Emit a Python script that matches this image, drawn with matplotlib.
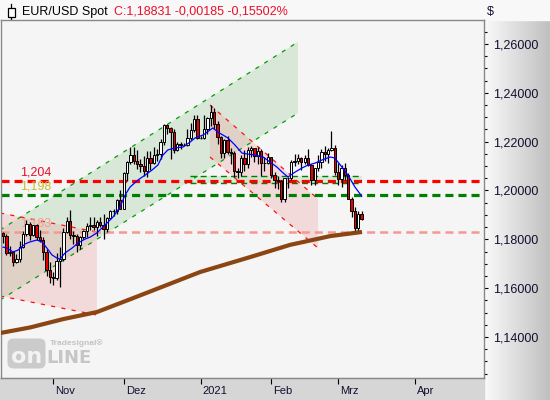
import numpy as np
import pandas as pd
import matplotlib
matplotlib.use("Agg")
import matplotlib.pyplot as plt
from matplotlib.patches import Rectangle, Polygon, FancyBboxPatch
from matplotlib.ticker import FixedLocator, MultipleLocator, FuncFormatter
import matplotlib.transforms as mtransforms

plt.rcParams['font.family'] = ['Liberation Sans', 'DejaVu Sans']
plt.rcParams['lines.scale_dashes'] = False

# ---------------- data ----------------
dates = ['2020-10-12','2020-10-13','2020-10-14','2020-10-15','2020-10-16','2020-10-19','2020-10-20','2020-10-21',
         '2020-10-22','2020-10-23','2020-10-26','2020-10-27','2020-10-28','2020-10-29','2020-10-30',
         '2020-11-02','2020-11-03','2020-11-04','2020-11-05','2020-11-06','2020-11-09','2020-11-10','2020-11-11',
         '2020-11-12','2020-11-13','2020-11-16','2020-11-17','2020-11-18','2020-11-19','2020-11-20','2020-11-23',
         '2020-11-24','2020-11-25','2020-11-26','2020-11-27','2020-11-30',
         '2020-12-01','2020-12-02','2020-12-03','2020-12-04','2020-12-07','2020-12-08','2020-12-09','2020-12-10',
         '2020-12-11','2020-12-14','2020-12-15','2020-12-16','2020-12-17','2020-12-18','2020-12-21','2020-12-22',
         '2020-12-23','2020-12-24','2020-12-25','2020-12-28','2020-12-29','2020-12-30','2020-12-31',
         '2021-01-01','2021-01-04','2021-01-05','2021-01-06','2021-01-07','2021-01-08','2021-01-11','2021-01-12',
         '2021-01-13','2021-01-14','2021-01-15','2021-01-18','2021-01-19','2021-01-20','2021-01-21','2021-01-22',
         '2021-01-25','2021-01-26','2021-01-27','2021-01-28','2021-01-29',
         '2021-02-01','2021-02-02','2021-02-03','2021-02-04','2021-02-05','2021-02-08','2021-02-09','2021-02-10',
         '2021-02-11','2021-02-12','2021-02-15','2021-02-16','2021-02-17','2021-02-18','2021-02-19','2021-02-22',
         '2021-02-23','2021-02-24','2021-02-25','2021-02-26',
         '2021-03-01','2021-03-02','2021-03-03','2021-03-04','2021-03-05','2021-03-08','2021-03-09','2021-03-10']

opens = [1.1826,1.1813,1.1745,1.1747,1.1706,1.1718,1.1768,1.1823,1.1862,1.1816,1.1859,1.1811,1.1797,1.1746,1.1674,
         1.1647,1.1641,1.1713,1.1720,1.1831,1.1875,1.1816,1.1813,1.1778,1.1810,1.1833,1.1855,1.1860,1.1850,1.1872,
         1.1860,1.1843,1.1889,1.1915,1.1915,1.1962,
         1.1926,1.2072,1.2115,1.2147,1.2121,1.2108,1.2101,1.2079,1.2134,1.2113,1.2146,1.2150,1.2197,1.2266,1.2254,
         1.2239,1.2165,1.2189,1.2187,1.2187,1.2214,1.2248,1.2293,
         1.2216,1.2216,1.2251,1.2297,1.2323,1.2271,1.2220,1.2152,1.2208,1.2157,1.2155,1.2079,1.2075,1.2131,1.2108,
         1.2165,1.2173,1.2142,1.2162,1.2112,1.2114,
         1.2136,1.2062,1.2041,1.2038,1.1965,1.2049,1.2049,1.2118,1.2120,1.2131,1.2118,1.2133,1.2106,1.2041,1.2091,
         1.2118,1.2156,1.2150,1.2166,1.2174,
         1.2075,1.2047,1.2091,1.2063,1.1966,1.1917,1.1847,1.1902]
highs = [1.1830,1.1820,1.1772,1.1752,1.1741,1.1794,1.1832,1.1881,1.1870,1.1860,1.1861,1.1838,1.1810,1.1760,1.1707,
         1.1665,1.1745,1.1770,1.1845,1.1891,1.1920,1.1836,1.1821,1.1815,1.1838,1.1868,1.1892,1.1890,1.1880,1.1890,
         1.1905,1.1890,1.1922,1.1923,1.1965,1.2002,
         1.2077,1.2122,1.2176,1.2178,1.2167,1.2128,1.2140,1.2163,1.2161,1.2178,1.2169,1.2210,1.2273,1.2272,1.2260,
         1.2250,1.2199,1.2200,1.2195,1.2250,1.2276,1.2310,1.2309,
         1.2225,1.2310,1.2300,1.2349,1.2338,1.2283,1.2225,1.2212,1.2222,1.2173,1.2163,1.2090,1.2145,1.2165,1.2176,
         1.2184,1.2175,1.2176,1.2168,1.2139,1.2155,
         1.2137,1.2075,1.2058,1.2042,1.2051,1.2055,1.2125,1.2150,1.2151,1.2139,1.2146,1.2170,1.2108,1.2093,1.2145,
         1.2169,1.2181,1.2175,1.2243,1.2185,
         1.2112,1.2105,1.2113,1.2070,1.1973,1.1933,1.1914,1.1917]
lows = [1.1786,1.1737,1.1730,1.1689,1.1702,1.1705,1.1763,1.1815,1.1797,1.1812,1.1796,1.1788,1.1717,1.1649,1.1622,
        1.1612,1.1634,1.1603,1.1710,1.1825,1.1800,1.1780,1.1746,1.1760,1.1802,1.1810,1.1840,1.1840,1.1815,1.1850,
        1.1801,1.1830,1.1883,1.1895,1.1902,1.1925,
        1.1925,1.2040,1.2110,1.2109,1.2087,1.2076,1.2058,1.2055,1.2085,1.2110,1.2121,1.2127,1.2185,1.2233,1.2130,
        1.2153,1.2160,1.2170,1.2180,1.2180,1.2208,1.2240,1.2210,
        1.2210,1.2212,1.2230,1.2265,1.2250,1.2191,1.2132,1.2132,1.2150,1.2109,1.2054,1.2053,1.2061,1.2078,1.2090,
        1.2137,1.2115,1.2109,1.2058,1.2080,1.2108,
        1.2050,1.2010,1.2004,1.1952,1.1952,1.2011,1.2044,1.2102,1.2109,1.2084,1.2110,1.2099,1.2023,1.2022,1.2080,
        1.2090,1.2120,1.2113,1.2162,1.2062,
        1.2023,1.2015,1.2044,1.1963,1.1892,1.1835,1.1835,1.1880]
closes = [1.1813,1.1745,1.1747,1.1706,1.1718,1.1768,1.1823,1.1862,1.1816,1.1859,1.1811,1.1797,1.1746,1.1674,1.1647,
          1.1641,1.1713,1.1720,1.1831,1.1875,1.1816,1.1813,1.1778,1.1810,1.1833,1.1855,1.1860,1.1850,1.1872,1.1860,
          1.1843,1.1889,1.1915,1.1915,1.1962,1.1926,
          1.2072,1.2115,1.2147,1.2121,1.2108,1.2101,1.2079,1.2134,1.2113,1.2146,1.2150,1.2197,1.2266,1.2254,1.2239,
          1.2165,1.2189,1.2187,1.2187,1.2214,1.2248,1.2293,1.2216,
          1.2216,1.2251,1.2297,1.2323,1.2271,1.2220,1.2152,1.2208,1.2157,1.2155,1.2079,1.2075,1.2131,1.2108,1.2165,
          1.2173,1.2142,1.2162,1.2112,1.2114,1.2136,
          1.2062,1.2041,1.2038,1.1965,1.2049,1.2049,1.2118,1.2120,1.2131,1.2118,1.2133,1.2106,1.2041,1.2091,1.2118,
          1.2156,1.2150,1.2166,1.2174,1.2075,
          1.2047,1.2091,1.2063,1.1966,1.1917,1.1847,1.1902,1.1883]

# short moving average (blue): bar index -> value
fast_ma_idx = [0, 1.2, 3.0, 4.5, 6.6, 8.0, 10.1, 11.6, 13.1, 14.6, 16.1, 17.0, 18.5, 20.6, 22.4, 24.5, 26.0, 28.0,
               30.4, 32.8, 34.9, 36.4, 37.9, 40.3, 42.4, 44.5, 46.2, 47.7, 49.2, 51.3, 53.7, 55.8, 57.3, 59.7, 62.6,
               64.1, 67.1, 69.2, 71.3, 73.1, 75.2, 77.6, 79.7, 81.7, 83.3, 85.0, 87.1, 89.2, 91.0, 93.1, 95.2, 97.6,
               99.0, 101.1, 102.9, 105.0, 107.0]
fast_ma_val = [1.1768, 1.1764, 1.1748, 1.1756, 1.1781, 1.1789, 1.1797, 1.1789, 1.1764, 1.1736, 1.1723, 1.1719, 1.1744,
               1.1764, 1.1785, 1.1801, 1.1809, 1.1826, 1.1858, 1.1891, 1.1932, 1.1981, 1.2014, 1.2043, 1.2063, 1.2084,
               1.2104, 1.2145, 1.2166, 1.2174, 1.2178, 1.2198, 1.2215, 1.2227, 1.2256, 1.2239, 1.2215, 1.2186, 1.2153,
               1.2149, 1.2145, 1.2137, 1.2116, 1.2096, 1.2075, 1.2055, 1.2075, 1.2092, 1.2104, 1.2112, 1.2125, 1.2137,
               1.2133, 1.2096, 1.2063, 1.2014, 1.1977]
# long moving average (brown)
slow_ma_idx = [-0.9, 8.1, 17.9, 28.0, 38.8, 48.9, 58.8, 73.7, 85.6, 97.6, 107.1]
slow_ma_val = [1.1416, 1.1439, 1.1473, 1.1502, 1.1559, 1.1613, 1.1666, 1.1727, 1.1777, 1.1813, 1.1830]

# drawn trend channels: (start bar, end bar, upper start, upper end, lower start, lower end)
up_channel = (-0.9, 88.0, 1.1838, 1.2608, 1.1551, 1.2317)
left_channel = (-0.9, 28.0, 1.1908, 1.1830, 1.1568, 1.1490)
down_channel = (61.75, 94.0, 1.2350, 1.1965, 1.2137, 1.1764)
zone_band = (55.8, 107.1, 1.2059, 1.2030)

level_values = [1.204, 1.198, 1.183]
level_labels = ['1,204', '1,198', '1,183']

month_labels = ['Nov', 'Dez', '2021', 'Feb', 'Mrz', 'Apr']
month_first = ['2020-11', '2020-12', '2021-01', '2021-02', '2021-03']
march_trading_days = 23
y_major = [1.14, 1.16, 1.18, 1.20, 1.22, 1.24, 1.26]

title_left = 'EUR/USD Spot'
title_right = 'C:1,18831 -0,00185 -0,15502%'

# ---------------- figure ----------------
W, H = 550, 400
fig = plt.figure(figsize=(5.5, 4.0), dpi=100)

bg = fig.add_axes([0, 0, 1, 1], zorder=-10)
bg.axis('off')
bg.add_patch(Rectangle((0, 0), W, 20, color='#f8f8f8'))
bg.add_patch(Rectangle((0, 378), 484, 22, color='#d6d6d6'))
bg.add_patch(Rectangle((1, 20), 483, 358, color='#f5f5f5', zorder=0))
g = np.linspace(0, 1, 128)[:, None]
c0 = np.array([250, 250, 250]) / 255
c1 = np.array([192, 192, 192]) / 255
grad = (c0 * (1 - g) + c1 * g)[None, :, :]
bg.imshow(grad, extent=[484, 550, 400, 0], aspect='auto', interpolation='bilinear')
bg.set_xlim(0, W)
bg.set_ylim(H, 0)

# title icon
bg.plot([11, 11], [4, 19], color='black', lw=0.9)
bg.add_patch(Rectangle((7.5, 7.5), 7, 9, facecolor='white', edgecolor='black', lw=0.9, zorder=3))
fig.text(22 / W, 1 - 12 / H, title_left, fontsize=9, color='black', va='center', ha='left')
fig.text(114 / W, 1 - 12 / H, title_right, fontsize=9, color='#e8102a', va='center', ha='left')
fig.text(487 / W, 1 - 12 / H, '$', fontsize=9, color='#101030', va='center', ha='left')

# watermark logo
bg.add_patch(FancyBboxPatch((9, 340), 35, 27, boxstyle='round,pad=1.5,rounding_size=6',
                            facecolor='#cbcbcb', edgecolor='none', zorder=1))
bg.text(26.5, 357, 'on', fontsize=16, fontweight='bold', color='#f3f3f3', ha='center', va='center',
        family='DejaVu Sans', zorder=2)
bg.text(46, 358, 'LINE', fontsize=13, fontweight='bold', color='#c6c6c6', ha='left', va='center',
        family='DejaVu Sans', zorder=2)
bg.text(50, 343.5, 'Tradesignal\u00ae', fontsize=6, fontweight='bold', color='#c3c3c3', ha='left', va='center', zorder=2)

# main axes
ax = fig.add_axes([1 / W, 22 / H, 483 / W, 358 / H], zorder=0)
ax.patch.set_alpha(0.0)

n = len(closes)
idx = np.arange(n)

def chan(c, face, alpha, edge):
    i0, i1, u0, u1, l0, l1 = c
    ax.add_patch(Polygon([(i0, u0), (i1, u1), (i1, l1), (i0, l0)], closed=True,
                         facecolor=face, alpha=alpha, edgecolor='none', zorder=1))
    for a, b in ((u0, u1), (l0, l1)):
        ax.plot([i0, i1], [a, b], color=edge, lw=0.9, dashes=(3, 4.5), zorder=2)

chan(up_channel, '#b6d6b6', 0.45, '#00a000')
chan(left_channel, '#f0a8a8', 0.35, '#ff1010')
chan(down_channel, '#f0a8a8', 0.35, '#ff1010')

zi0, zi1, zu, zl = zone_band
ax.fill_between([zi0, zi1], [zl, zl], [zu, zu], color='#c6e3c6', alpha=0.6, lw=0, zorder=1)
for v in (zu, zl):
    ax.plot([zi0, zi1], [v, v], color='#008000', lw=1.0, dashes=(4.3, 3), zorder=2)

lvl_colors = ['#ff0000', '#008000', '#f49890']
lvl_text_colors = ['#e8102a', '#c2c030', '#f0a090']
lvl_lw = [2.3, 2.3, 1.8]
for v, lab, c, tc, lw in zip(level_values, level_labels, lvl_colors, lvl_text_colors, lvl_lw):
    ax.axhline(v, color=c, lw=lw, dashes=(5.8, 3.6), zorder=2)
    ax.annotate(lab, xy=(0, v), xycoords=('axes fraction', 'data'), xytext=(19, 2.5),
                textcoords='offset pixels', fontsize=9, color=tc, ha='left', va='bottom', zorder=2)

# candles
bw = 0.7
ax.vlines(idx, lows, highs, color='black', lw=0.9, zorder=3)
for i in range(n):
    o, c = opens[i], closes[i]
    lo, hi = min(o, c), max(o, c)
    face = 'white' if c >= o else '#e80000'
    ax.add_patch(Rectangle((i - bw / 2, lo), bw, max(hi - lo, 0.00008), facecolor=face,
                           edgecolor='black', lw=0.7, zorder=4))

ax.plot(slow_ma_idx, slow_ma_val, color='#8b4513', lw=3.0, solid_capstyle='butt', zorder=5)
ax.plot(fast_ma_idx, fast_ma_val, color='#0000ff', lw=0.9, zorder=5)

ax.set_xlim(-0.6, 143.5)
ax.set_ylim(1.1232, 1.2698)

ax.yaxis.tick_right()
ax.yaxis.set_major_locator(FixedLocator(y_major))
ax.yaxis.set_minor_locator(MultipleLocator(0.005))
ax.yaxis.set_major_formatter(FuncFormatter(lambda v, p: f'{v:.5f}'.replace('.', ',')))
ax.tick_params(axis='y', which='major', length=3, width=0.8, color='black', pad=3.5,
               labelsize=9, labelcolor='#101030')
ax.tick_params(axis='y', which='minor', length=2, width=0.8, color='black')

d = pd.to_datetime(dates)
month_pos = [int(np.argmax(d.strftime('%Y-%m') == m)) for m in month_first]
month_pos.append(month_pos[-1] + march_trading_days)
ax.set_xticks(month_pos)
ax.set_xticklabels(month_labels, ha='left', fontsize=8, color='#101030')
ax.tick_params(axis='x', length=4, width=0.8, color='black', pad=2.0)
off = mtransforms.ScaledTranslation(2 / 100, 0, fig.dpi_scale_trans)
for lab in ax.get_xticklabels():
    lab.set_transform(lab.get_transform() + off)

for s in ax.spines.values():
    s.set_color('#888888')
    s.set_linewidth(1.0)

fig.savefig('out.png', dpi=100)
